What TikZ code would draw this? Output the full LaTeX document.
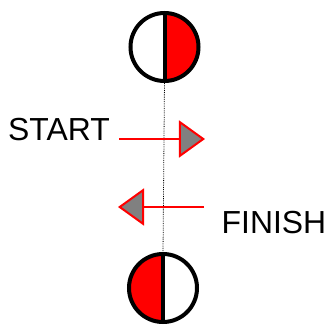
\documentclass[tikz,border=0pt]{standalone}
\usepackage{fontspec}
\setmainfont{Liberation Sans}
\usetikzlibrary{arrows.meta}

\begin{document}
\begin{tikzpicture}[x=1bp, y=1bp,
		disk/.style={circle, inner sep=0pt, minimum size=68bp},
		rim/.style={line width=4bp},
		label/.style={inner sep=0pt, anchor=base west, font=\fontsize{32}{32}\selectfont},
		move/.style={red, line width=1.5bp, -{Triangle[length=26bp, width=37bp, fill=gray, line width=2bp]}}]
			\useasboundingbox (0,0) rectangle (329,325);

			% Nodes
			\node[disk] (top) at (164.5,278) {};
			\node[disk] (bottom) at (163,37) {};
			\node[label] (startlabel) at (8,185) {START};
			\node[label] (finishlabel) at (221.5,92) {FINISH};

			% Halves
			\fill[red] (top.north) arc[start angle=90, end angle=-90, radius=34bp] -- cycle;
			\fill[red] (bottom.north) arc[start angle=90, end angle=270, radius=34bp] -- cycle;

			% Axis
			\draw[densely dotted, line width=0.8bp] (top.south) -- (bottom.north);

			% Rims
			\draw[rim] (top) circle[radius=34bp];
			\draw[rim] (top.north) -- (top.south);
			\draw[rim] (bottom) circle[radius=34bp];
			\draw[rim] (bottom.north) -- (bottom.south);

			% Moves
			\coordinate (startfrom) at (119,186);
			\coordinate (startto) at (205,186);
			\coordinate (finishfrom) at (204,118);
			\coordinate (finishto) at (118,118);
			\draw[move] (startfrom) -- (startto);
			\draw[move] (finishfrom) -- (finishto);
		\end{tikzpicture}
\end{document}
